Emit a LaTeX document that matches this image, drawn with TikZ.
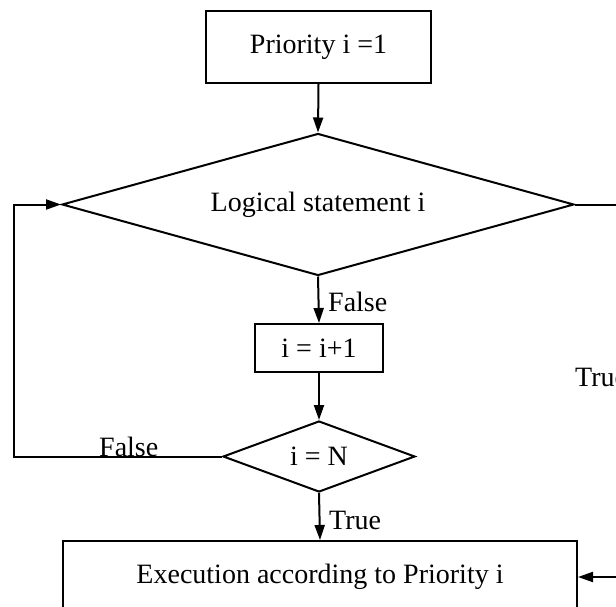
\documentclass[tikz,border=0pt]{standalone}
\usepackage{fontspec}
\setmainfont{Liberation Serif}
\usetikzlibrary{shapes.geometric,arrows.meta}
\begin{document}
\begin{tikzpicture}[x=1pt,y=-1pt,
  every node/.style={font=\fontsize{28}{34}\selectfont},
  box/.style={draw, line width=2pt, inner sep=0pt, rectangle},
  decision/.style={draw, diamond, line width=2pt, inner sep=0pt},
  lbl/.style={inner sep=0pt},
  conn/.style={line width=2pt},
  arr/.style={conn, -{Triangle[length=15pt,width=10pt]}}]
\useasboundingbox (0,0) rectangle (616,607);
\clip (0,0) rectangle (616,607);
\fill[white] (0,0) rectangle (616,607);
\node[box, minimum width=225pt, minimum height=72pt] (start) at (318.5,47) {Priority i =1};
\node[decision, minimum width=512pt, minimum height=142pt, aspect=3.6] (bigd) at (318,204.5) {Logical statement i};
\node[box, minimum width=128pt, minimum height=48pt] (inc) at (319,348) {i = i+1};
\node[decision, minimum width=192pt, minimum height=71pt, aspect=2.7] (smalld) at (319,456.5) {i = N};
\node[box, minimum width=514pt, minimum height=72pt] (exec) at (320,577) {Execution according to Priority i};
\coordinate (lc) at (14,456.5);
\coordinate (rc) at (640,204.5);
\draw[arr] (start.south) -- (bigd.north);
\draw[arr] (bigd.south) -- (inc.north);
\draw[arr] (inc.south) -- (smalld.north);
\draw[arr] (smalld.south) -- (exec.north);
\draw[arr] (smalld.west) -- (lc) |- (bigd.west);
\draw[arr] (bigd.east) -- (rc) |- (exec.east);
\node[lbl, anchor=west] (f1) at (328,302) {False};
\node[lbl, anchor=west] (t1) at (329,520) {True};
\node[lbl, anchor=base west] (f2) at (99,456) {False};
\node[lbl, anchor=west] (t2) at (575,377) {True};
\end{tikzpicture}
\end{document}
